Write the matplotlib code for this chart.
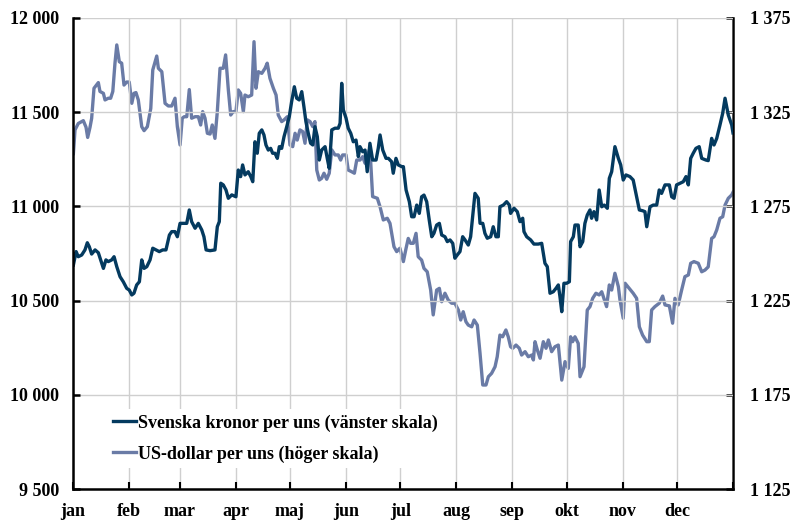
import datetime
import matplotlib
matplotlib.use('Agg')
import matplotlib.pyplot as plt
import matplotlib.dates as mdates
from matplotlib.ticker import FuncFormatter, FixedLocator
import numpy as np

# day of year 2018 (0 = 1 jan) and gold price in USD per ounce (right axis)
usd_day = [0.2, 1.1, 2.9, 5.7, 7.2, 8.1, 9.4, 10.3, 11.6, 14.0, 14.9, 16.8, 17.7, 19.5, 20.8,
           22.0, 23.2, 24.2, 25.6, 26.9, 28.2, 29.7, 31.1, 32.5, 33.7, 34.8, 36.1, 38.0, 39.3,
           41.1, 43.0, 44.1, 46.3, 47.2, 49.1, 50.9, 52.7, 54.6, 56.4, 57.7, 59.2, 60.4, 61.5,
           62.9, 64.3, 65.6, 67.5, 69.3, 70.6, 71.7, 73.0, 74.3, 75.8, 77.0, 78.5, 79.8, 81.3,
           83.1, 84.4, 85.9, 87.2, 88.6, 90.1, 91.4, 92.7, 94.2, 95.1, 96.9, 98.8, 100.1, 101.2,
           102.5, 104.4, 106.2, 107.4, 108.9, 110.8, 112.3, 113.5, 115.4, 116.7, 118.5, 120.0,
           121.5, 122.8, 124.0, 125.5, 127.0, 128.3, 129.6, 131.1, 132.6, 133.8, 134.8, 136.2,
           137.5, 138.8, 140.3, 141.7, 143.1, 144.9, 146.7, 148.0, 149.1, 151.0, 152.2, 154.1,
           155.6, 156.9, 158.7, 160.2, 161.5, 162.7, 164.2, 165.7, 168.3, 169.8, 171.6, 173.8,
           175.3, 177.5, 179.0, 180.8, 182.7, 184.2, 185.4, 186.7, 188.2, 189.7, 190.9, 192.8,
           194.1, 195.9, 197.8, 199.2, 201.1, 202.6, 203.9, 205.7, 207.5, 209.4, 211.2, 213.1,
           214.4, 215.8, 217.3, 218.6, 220.5, 221.8, 223.6, 225.1, 226.6, 228.4, 229.7, 231.5,
           233.4, 234.6, 236.1, 237.6, 239.4, 240.7, 242.0, 243.2, 245.0, 246.8, 248.1, 250.0,
           251.8, 253.7, 254.6, 255.5, 256.8, 258.3, 260.1, 261.6, 262.9, 264.7, 266.5, 268.4,
           270.3, 272.1, 273.9, 275.2, 276.3, 277.6, 279.4, 280.4, 282.6, 284.4, 285.9, 287.4,
           289.2, 291.0, 292.4, 295.1, 296.6, 297.9, 299.7, 301.6, 302.5, 304.3, 305.3, 307.6,
           309.8, 311.7, 313.2, 315.0, 317.3, 318.7, 320.0, 321.8, 324.2, 326.1, 327.4, 329.8,
           331.6, 332.9, 334.7, 336.6, 338.4, 340.3, 341.6, 343.4, 345.8, 347.7, 349.5, 351.3,
           353.2, 354.5, 356.0, 357.8, 359.3, 360.6, 362.4, 364.3, 365.0]
usd = [1303, 1315.6, 1319, 1320.5, 1317, 1311.6, 1317, 1321.7, 1337.7, 1340.7, 1336, 1335, 1331.5,
       1332.4, 1332.4, 1336, 1351, 1360.7, 1351.8, 1351, 1339.4, 1341, 1341, 1329.7, 1335, 1335.4,
       1331.5, 1317.3, 1315.2, 1317.3, 1327, 1347.4, 1354.8, 1348.3, 1346.5, 1329.7, 1328.3,
       1328.3, 1332.4, 1317.3, 1307.6, 1321.8, 1322.6, 1322.6, 1337, 1321.8, 1322.6, 1322.6,
       1318.2, 1325.3, 1321.8, 1313.8, 1313.4, 1318.2, 1311.1, 1325.3, 1348.3, 1348.3, 1355.4,
       1336.8, 1323.5, 1325.3, 1325.3, 1336.8, 1335, 1325.3, 1334.1, 1333.2, 1334.1, 1362.4,
       1337.7, 1346.5, 1345.6, 1348.3, 1351, 1343, 1337.7, 1334.1, 1323.5, 1320, 1320.9, 1322.6,
       1307.6, 1306.7, 1313.8, 1310.2, 1315.6, 1314.7, 1308.5, 1320.9, 1320, 1317.3, 1320,
       1294.3, 1289, 1289.9, 1292.6, 1289.4, 1292.6, 1305, 1302.3, 1302.3, 1299.6, 1302.3,
       1302.3, 1294.3, 1293.4, 1292.6, 1299.6, 1299.6, 1301.4, 1297.9, 1301.4, 1305.8, 1280.2,
       1279.3, 1274.8, 1267.8, 1268.7, 1266, 1253.6, 1251, 1252.8, 1245.7, 1252.8, 1258,
       1255.4, 1255.4, 1260.7, 1248.3, 1246.5, 1242.1, 1240.3, 1230.6, 1217.4, 1230.6, 1231.5,
       1224.4, 1228.9, 1225.3, 1223.6, 1223.6, 1220, 1214.7, 1219.1, 1213.8, 1212, 1211.1,
       1214.7, 1212, 1197, 1180.2, 1180.2, 1184.6, 1186.4, 1189.9, 1195.2, 1206.7, 1205.8,
       1209.4, 1205.8, 1200.5, 1199.7, 1201.4, 1199.7, 1196.1, 1197.9, 1195.2, 1196.1, 1193.5,
       1203.2, 1198.8, 1194.4, 1203.2, 1199.7, 1204.1, 1197.9, 1200.5, 1201.4, 1182.8, 1192.6,
       1189, 1205.8, 1203.2, 1205.8, 1202.3, 1184.6, 1189.9, 1220, 1221.8, 1226.2, 1228.9, 1228,
       1229.7, 1221.8, 1233.3, 1230.6, 1239.5, 1232.4, 1225.3, 1215.6, 1234.2, 1231.5, 1228.9,
       1226.2, 1211.1, 1206.7, 1203.2, 1203.2, 1220, 1221.8, 1223.6, 1227.4, 1222.7, 1222.2,
       1213, 1226.2, 1222.7, 1230.6, 1237.7, 1238.6, 1244.8, 1245.7, 1244.8, 1240.3, 1241.2,
       1242.9, 1258, 1258.9, 1262.5, 1268.7, 1269.5, 1275.7, 1279.3, 1281.1, 1282.5]

# day of year 2018 and gold price in SEK per ounce (left axis)
sek_day = [0.2, 1.7, 2.9, 4.8, 6.6, 7.9, 9.0, 10.3, 12.2, 14.0, 15.3, 16.8, 18.2, 19.5, 21.4,
           22.7, 24.2, 26.0, 27.8, 29.7, 31.1, 32.5, 33.7, 35.2, 36.7, 38.0, 39.3, 40.8, 42.6,
           44.1, 45.9, 47.7, 49.6, 51.4, 53.3, 54.6, 56.4, 57.7, 59.2, 61.0, 62.9, 64.3, 65.6,
           67.5, 69.3, 71.2, 72.4, 73.6, 75.8, 78.5, 79.8, 80.9, 81.7, 83.1, 84.6, 85.9, 87.8,
           90.1, 91.4, 92.7, 93.8, 95.1, 96.9, 98.3, 99.4, 100.6, 101.9, 103.0, 104.4, 105.6,
           106.7, 108.0, 109.3, 110.4, 111.7, 113.0, 114.1, 115.4, 116.7, 118.2, 119.6, 120.9,
           122.4, 123.7, 125.1, 126.5, 127.7, 128.8, 130.1, 131.4, 132.6, 133.8, 135.1, 136.2,
           137.5, 139.4, 140.6, 141.7, 143.1, 144.9, 146.7, 147.7, 148.6, 149.5, 151.0, 152.2,
           153.6, 155.0, 156.5, 157.8, 158.7, 160.2, 161.5, 162.7, 164.2, 165.7, 167.6, 168.8,
           169.8, 171.3, 173.1, 174.4, 176.2, 177.1, 178.6, 179.9, 181.8, 182.7, 184.2, 186.0,
           187.3, 188.6, 190.1, 191.5, 192.8, 194.1, 195.6, 197.0, 198.4, 199.6, 201.1, 202.6,
           203.9, 205.7, 207.0, 208.5, 210.0, 211.2, 212.5, 214.0, 215.5, 216.8, 218.6, 219.9,
           221.0, 222.3, 224.1, 225.1, 226.6, 227.8, 229.1, 231.0, 232.4, 233.9, 235.2, 236.1,
           238.0, 239.8, 241.3, 242.0, 243.9, 245.7, 247.2, 248.7, 249.4, 250.9, 253.1, 254.9,
           257.3, 259.2, 261.0, 262.3, 263.8, 265.6, 267.1, 268.4, 269.3, 270.3, 271.5, 273.0,
           274.5, 275.2, 276.7, 277.6, 279.4, 280.4, 281.9, 283.1, 284.4, 285.9, 286.8, 288.1,
           289.6, 291.0, 292.4, 293.8, 295.5, 296.6, 297.9, 299.7, 301.6, 302.9, 304.3, 305.8,
           308.0, 309.8, 311.7, 313.2, 315.0, 316.3, 317.3, 319.1, 320.9, 322.8, 324.2, 325.5,
           327.4, 329.8, 331.1, 332.4, 333.8, 335.7, 337.5, 339.0, 340.3, 341.6, 343.0, 344.5,
           346.3, 347.7, 350.0, 351.3, 353.2, 354.5, 356.0, 357.8, 359.3, 360.6, 362.4, 364.3,
           365.0]
sek = [10689, 10760, 10733, 10742, 10769, 10807, 10786, 10747, 10769, 10754, 10716, 10671, 10716,
       10707, 10716, 10733, 10680, 10627, 10600, 10565, 10556, 10530, 10539, 10583, 10600, 10716,
       10671, 10680, 10716, 10778, 10769, 10760, 10769, 10769, 10848, 10866, 10866, 10839, 10910,
       10910, 10910, 10981, 10919, 10884, 10910, 10875, 10839, 10769, 10765, 10769, 10892, 10919,
       11123, 11114, 11087, 11043, 11061, 11051, 11193, 11158, 11220, 11167, 11184, 11158, 11131,
       11343, 11282, 11388, 11406, 11379, 11326, 11299, 11308, 11282, 11282, 11255, 11317, 11308,
       11370, 11423, 11476, 11556, 11635, 11574, 11565, 11609, 11529, 11450, 11388, 11335, 11326,
       11423, 11370, 11246, 11299, 11317, 11255, 11202, 11406, 11415, 11415, 11441, 11653, 11512,
       11468, 11415, 11388, 11343, 11352, 11264, 11317, 11290, 11299, 11184, 11335, 11246, 11246,
       11308, 11379, 11299, 11255, 11255, 11237, 11176, 11255, 11220, 11211, 11211, 11087, 11025,
       10945, 10945, 11007, 10963, 11051, 11060, 11025, 10928, 10839, 10857, 10901, 10910, 10848,
       10839, 10813, 10822, 10804, 10725, 10742, 10760, 10839, 10822, 10795, 10839, 10945, 11069,
       11043, 10910, 10910, 10857, 10831, 10839, 10892, 10839, 10839, 10998, 11007, 11025, 11007,
       10963, 10990, 10972, 10919, 10937, 10866, 10839, 10822, 10800, 10800, 10804, 10698, 10680,
       10539, 10547, 10565, 10583, 10521, 10441, 10592, 10592, 10600, 10813, 10839, 10901, 10901,
       10786, 10813, 10910, 10954, 10981, 10937, 10972, 10928, 11087, 10998, 11007, 10990, 11149,
       11184, 11317, 11255, 11220, 11140, 11167, 11158, 11140, 11051, 10981, 10977, 10972, 10892,
       10998, 11007, 11007, 11087, 11069, 11114, 11114, 11051, 11043, 11114, 11123, 11131, 11158,
       11114, 11255, 11282, 11308, 11317, 11255, 11246, 11243, 11361, 11326, 11361, 11432, 11494,
       11574, 11485, 11432, 11390]

month_labels = ['jan', 'feb', 'mar', 'apr', 'maj', 'jun', 'jul', 'aug', 'sep', 'okt', 'nov', 'dec']

sek_label = 'Svenska kronor per uns (vänster skala)'
usd_label = 'US-dollar per uns (höger skala)'

dark = '#043a5f'
light = '#6a7ba6'
grid = '#cfcfcf'

plt.rcParams['font.family'] = ['Liberation Serif', 'DejaVu Serif']
plt.rcParams['font.weight'] = 'bold'

start = mdates.date2num(datetime.date(2018, 1, 1))
month_pos = [mdates.date2num(datetime.date(2018, m, 1)) for m in range(1, 13)]
end = mdates.date2num(datetime.date(2019, 1, 1))

fig = plt.figure(figsize=(7.92, 5.21), dpi=100)
ax1 = fig.add_axes([0.0922, 0.0614, 0.8333, 0.9041])
ax2 = ax1.twinx()

ax2.plot(start + np.array(usd_day), usd, color=light, lw=2.4, solid_joinstyle='round')
ax1.plot(start + np.array(sek_day), sek, color=dark, lw=2.4, solid_joinstyle='round')

# left axis on top so the krona line overlays the dollar line
ax1.set_zorder(ax2.get_zorder() + 1)
ax1.patch.set_visible(False)

ax1.set_xlim(start, end)
ax1.set_ylim(9500, 12000)
ax2.set_ylim(1125, 1375)
ax1.yaxis.set_major_locator(FixedLocator(np.arange(9500, 12001, 500)))
ax2.yaxis.set_major_locator(FixedLocator(np.arange(1125, 1376, 50)))

fmt = FuncFormatter(lambda v, p: '{:,.0f}'.format(v).replace(',', ' '))
ax1.yaxis.set_major_formatter(fmt)
ax2.yaxis.set_major_formatter(fmt)

ax1.set_xticks(month_pos + [end])
ax1.set_xticklabels(month_labels + [''])

ax1.grid(True, color=grid, lw=1.0)
ax1.set_axisbelow(True)

for ax in (ax1, ax2):
    ax.spines['top'].set_visible(False)
    for s in ('left', 'right', 'bottom'):
        ax.spines[s].set_linewidth(1.8)
ax1.spines['right'].set_visible(False)
ax2.spines['left'].set_visible(False)
ax2.spines['bottom'].set_visible(False)

ax1.tick_params(axis='y', direction='in', length=5, width=1.8, pad=10, labelsize=13)
ax1.tick_params(axis='x', direction='in', length=5, width=1.5, pad=10, labelsize=13)
ax2.tick_params(axis='y', direction='in', length=5, width=1.8, pad=12, labelsize=13)
for lab in ax1.get_xticklabels() + ax1.get_yticklabels() + ax2.get_yticklabels():
    lab.set_fontweight('bold')

h1 = plt.Line2D([], [], color=dark, lw=2.4)
h2 = plt.Line2D([], [], color=light, lw=2.4)
leg = ax1.legend([h1, h2], [sek_label, usd_label], loc='upper left',
                 bbox_to_anchor=(0.052, 0.170), frameon=True, fancybox=False,
                 edgecolor='none', facecolor='white', framealpha=1.0,
                 prop={'size': 13, 'weight': 'bold'}, handlelength=1.3,
                 handletextpad=0.1, labelspacing=0.75, borderpad=0.3, borderaxespad=0)

plt.savefig('out.png', dpi=100)
